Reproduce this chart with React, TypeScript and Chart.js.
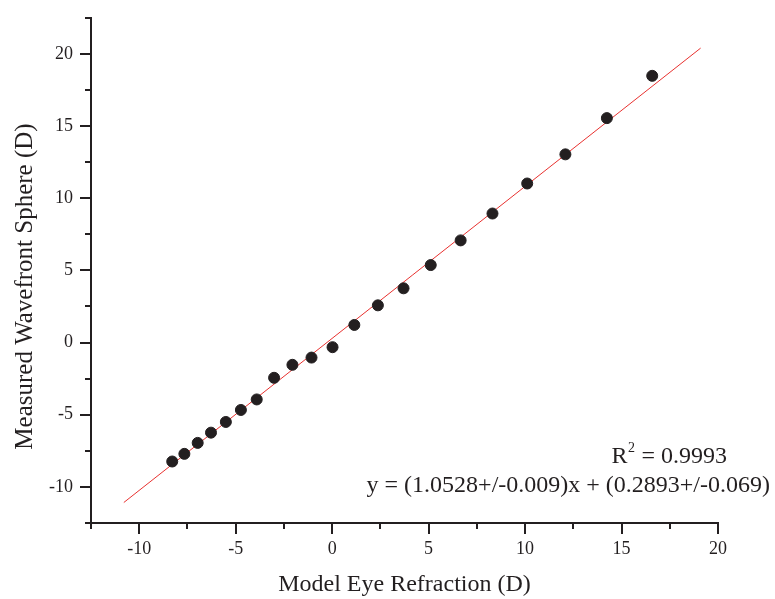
import React, { useEffect, useRef } from "react";
import { Chart, registerables } from "chart.js";

Chart.register(...registerables);

// Data
const modelEyeRefraction = [-8.29, -7.66, -6.97, -6.28, -5.51, -4.73, -3.91, -3.01, -2.06, -1.07, 0.02, 1.15, 2.37, 3.7, 5.11, 6.66, 8.31, 10.11, 12.09, 14.24, 16.59];
const measuredSphere = [-8.24, -7.71, -6.95, -6.24, -5.5, -4.67, -3.94, -2.44, -1.54, -1.04, -0.32, 1.22, 2.58, 3.76, 5.37, 7.08, 8.94, 11.02, 13.04, 15.55, 18.48];
const fitLineX = [-10.8, 19.1];
const fitLineY = [-11.08, 20.4];
const xRange = [-12.5, 20];
const yRange = [-12.5, 22.5];
const majorStep = 5;
const minorStep = 2.5;
const rSquaredText = "0.9993";
const equationText = "y = (1.0528+/-0.009)x + (0.2893+/-0.069)";
const xTitle = "Model Eye Refraction (D)";
const yTitle = "Measured Wavefront Sphere (D)";

const INK = "#231f20";
const SERIF = "'Liberation Serif', 'Times New Roman', serif";

const isMajor = (v: number) => Math.abs(v / majorStep - Math.round(v / majorStep)) < 1e-6;

const minorTicksPlugin = {
  id: "minorTicks",
  afterDraw(chart: any) {
    const ctx = chart.ctx;
    const xs = chart.scales.x;
    const ys = chart.scales.y;
    const area = chart.chartArea;
    ctx.save();
    ctx.strokeStyle = INK;
    ctx.lineWidth = 2;
    for (let v = xRange[0]; v <= xRange[1] + 1e-9; v += minorStep) {
      if (isMajor(v)) continue;
      const px = Math.round(xs.getPixelForValue(v));
      ctx.beginPath();
      ctx.moveTo(px, area.bottom);
      ctx.lineTo(px, area.bottom + 6);
      ctx.stroke();
    }
    for (let v = yRange[0]; v <= yRange[1] + 1e-9; v += minorStep) {
      if (isMajor(v)) continue;
      const py = Math.round(ys.getPixelForValue(v));
      ctx.beginPath();
      ctx.moveTo(area.left, py);
      ctx.lineTo(area.left - 6, py);
      ctx.stroke();
    }
    ctx.restore();
  },
};

const textPlugin = {
  id: "textLayer",
  afterDraw(chart: any) {
    const ctx = chart.ctx;
    const area = chart.chartArea;
    ctx.save();
    ctx.fillStyle = INK;
    ctx.textBaseline = "alphabetic";
    const big = `24px ${SERIF}`;
    const small = `14px ${SERIF}`;
    // R^2 line
    ctx.font = big;
    const wR = ctx.measureText("R").width;
    const rest = " = " + rSquaredText;
    const wRest = ctx.measureText(rest).width;
    ctx.font = small;
    const wSup = ctx.measureText("2").width;
    const rRight = area.right + 9;
    const rBase = area.bottom - 60;
    let x = rRight - (wR + wSup + 1 + wRest);
    ctx.font = big;
    ctx.fillText("R", x, rBase);
    x += wR + 0.5;
    ctx.font = small;
    ctx.fillText("2", x, rBase - 11);
    x += wSup + 0.5;
    ctx.font = big;
    ctx.fillText(rest, x, rBase);
    // equation
    ctx.textAlign = "right";
    ctx.fillText(equationText, area.right + 52, area.bottom - 31);

    // axis titles
    ctx.textAlign = "center";
    ctx.textBaseline = "middle";
    ctx.font = big;
    ctx.fillText(xTitle, (area.left + area.right) / 2, 585);
    ctx.save();
    ctx.translate(25, 286.5);
    ctx.rotate(-Math.PI / 2);
    ctx.font = `25px ${SERIF}`;
    ctx.fillText(yTitle, 0, 0);
    ctx.restore();
    ctx.restore();
  },
};

export default function App() {
  const canvasRef = useRef<HTMLCanvasElement | null>(null);

  useEffect(() => {
    const canvas = canvasRef.current;
    if (!canvas) return;
    const points = modelEyeRefraction.map((x, i) => ({ x, y: measuredSphere[i] }));
    const fit = fitLineX.map((x, i) => ({ x, y: fitLineY[i] }));

    const tickColor = (c: any) => (c.tick && isMajor(c.tick.value) ? INK : "rgba(0,0,0,0)");

    const chart = new Chart(canvas, {
      type: "scatter",
      data: {
        datasets: [
          {
            type: "line",
            data: fit,
            borderColor: "#e8312f",
            borderWidth: 1,
            pointRadius: 0,
            fill: false,
            order: 2,
          } as any,
          {
            type: "scatter",
            data: points,
            backgroundColor: INK,
            borderColor: INK,
            pointRadius: 5.5,
            pointHoverRadius: 5.5,
            order: 1,
          },
        ],
      },
      options: {
        animation: false,
        responsive: false,
        maintainAspectRatio: false,
        events: [],
        layout: { padding: { left: 0, top: 15, right: 57, bottom: 0 } },
        plugins: {
          legend: { display: false },
          tooltip: { enabled: false },
          title: { display: false },
        },
        scales: {
          x: {
            type: "linear",
            min: xRange[0],
            max: xRange[1],
            afterFit: (s: any) => {
              s.height = 76;
            },
            border: { display: true, color: INK, width: 2 },
            grid: {
              display: true,
              drawOnChartArea: false,
              drawTicks: true,
              tickLength: 11,
              color: tickColor,
              lineWidth: 2,
            },
            ticks: {
              stepSize: minorStep,
              autoSkip: false,
              maxRotation: 0,
              padding: 4,
              color: INK,
              font: { family: SERIF, size: 18 },
              callback: (v: any) => (isMajor(Number(v)) ? String(Math.round(Number(v))) : ""),
            },
            title: { display: false },
          },
          y: {
            type: "linear",
            min: yRange[0],
            max: yRange[1],
            afterFit: (s: any) => {
              s.width = 91;
            },
            border: { display: true, color: INK, width: 2 },
            grid: {
              display: true,
              drawOnChartArea: false,
              drawTicks: true,
              tickLength: 11,
              color: tickColor,
              lineWidth: 2,
            },
            ticks: {
              stepSize: minorStep,
              autoSkip: false,
              padding: 7,
              color: INK,
              font: { family: SERIF, size: 18 },
              callback: (v: any) => (isMajor(Number(v)) ? String(Math.round(Number(v))) : ""),
            },
            title: { display: false },
          },
        },
      },
      plugins: [minorTicksPlugin, textPlugin],
    });
    return () => chart.destroy();
  }, []);

  return (
    <div style={{ position: "fixed", left: 0, top: 0, width: 775, height: 599, background: "#fff" }}>
      <canvas ref={canvasRef} width={775} height={599} style={{ width: 775, height: 599, display: "block" }} />
    </div>
  );
}
